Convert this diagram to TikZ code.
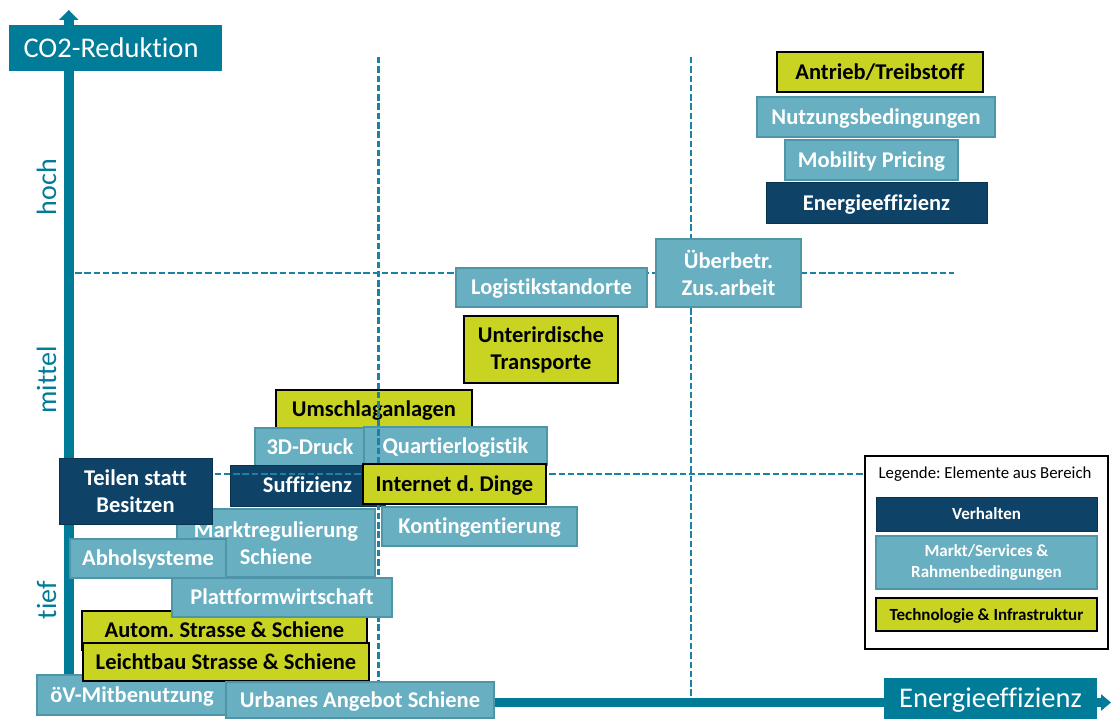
\documentclass[tikz,border=0pt]{standalone}
\usepackage{fontspec}
\setmainfont{Carlito}[Ligatures={NoCommon}]
\usetikzlibrary{arrows.meta}
\definecolor{axisc}{HTML}{007B98}
\definecolor{navy}{HTML}{0E4266}
\definecolor{navyb}{HTML}{0A3350}
\definecolor{lteal}{HTML}{68AFC1}
\definecolor{ltealb}{HTML}{4F95A9}
\definecolor{lime}{HTML}{C8D322}
\definecolor{dashc}{HTML}{1B82A6}
\newcommand{\mybox}[7]{\node[#2, minimum width={(#5-#3)*1pt}, minimum height={(#6-#4)*1pt}] (#1) at ({(#3+#5)/2},{(#4+#6)/2}) {#7};}
\frenchspacing
\begin{document}
\begin{tikzpicture}[x=1pt,y=-1pt,
  bxbase/.style={inner sep=0pt, align=center, font=\bfseries\fontsize{22.5}{27}\selectfont},
  dk/.style={bxbase, fill=navy, draw=navyb, line width=1pt, text=white},
  lt/.style={bxbase, fill=lteal, draw=ltealb, line width=1.2pt, text=white},
  tc/.style={bxbase, fill=lime, draw=black, line width=1.3pt, text=black},
  sl/.style={text height=19pt, text depth=4.5pt},
  lg/.style={font=\bfseries\fontsize{17}{20.5}\selectfont},
  lgs/.style={lg, text height=15pt, text depth=4pt},
  guide/.style={dashc, line width=2.3pt, dash pattern=on 6.5pt off 2.8pt},
  axislab/.style={text=axisc, font=\fontsize{28}{34}\selectfont, rotate=90, inner sep=0pt},
  axisline/.style={axisc, line width=9.5pt}]
\useasboundingbox (0,0) rectangle (1114,719);
% axes
\draw[axisline, -{Triangle[length=10pt,width=19pt]}] (68.8,707) -- (68.8,10);
\draw[axisline, -{Triangle[length=10pt,width=16pt]}] (64,702.5) -- (1111,702.5);
\node[fill=axisc, minimum width=213pt, minimum height=46pt, inner sep=0pt] (co2box) at (115.5,48) {};
\node[text=white, font=\fontsize{28.5}{34}\selectfont, inner sep=0pt] (co2) at (111,48) {CO2-Reduktion};
\node[fill=axisc, minimum width=213pt, minimum height=44pt, inner sep=0pt, text=white, font=\fontsize{28.5}{34}\selectfont] (eebox) at (990.5,700) {Energieeffizienz};
\node[axislab] (hoch) at (46.5,187) {hoch};
\node[axislab] (mittel) at (46.5,380) {mittel};
\node[axislab] (tief) at (46.5,600) {tief};
% lower layer boxes
\mybox{umschlag}{tc,sl}{276}{390}{472}{428}{Umschlaganlagen}
\mybox{druck}{lt,sl}{255}{428}{365}{467}{3D-Druck}
\mybox{quartier}{lt,sl}{364}{427}{547}{465}{Quartierlogistik}
\mybox{suff}{dk,sl}{230}{465}{385}{506}{Suffizienz}
% guide lines
\coordinate (v1t) at (378.5,57); \coordinate (v1b) at (378.5,698);
\coordinate (v2t) at (691,57); \coordinate (v2b) at (691,698);
\coordinate (h1l) at (75,273.3); \coordinate (h1r) at (954,273.3);
\coordinate (h2l) at (75,474); \coordinate (h2r) at (866,474);
\draw[guide] (v1t) -- (v1b);
\draw[guide] (v2t) -- (v2b);
\draw[guide] (h1l) -- (h1r);
\draw[guide] (h2l) -- (h2r);
% upper boxes
\mybox{antrieb}{tc,sl}{777}{52}{983}{92}{Antrieb/Treibstoff}
\mybox{nutzung}{lt,sl}{757}{97}{995}{137}{Nutzungsbedingungen}
\mybox{mobility}{lt,sl}{785}{140}{958}{180}{Mobility Pricing}
\mybox{energie}{dk,sl}{766}{183}{987}{224}{Energieeffizienz}
\mybox{logistik}{lt,sl}{456}{268}{647}{307}{Logistikstandorte}
\mybox{ueber}{lt}{656}{239}{801}{307}{Überbetr.\\Zus.arbeit}
\mybox{unter}{tc}{464}{316}{618}{383}{Unterirdische\\Transporte}
\mybox{internet}{tc,sl}{363}{464}{546}{504}{Internet d. Dinge}
\mybox{markt}{lt}{177}{509}{375}{577}{Marktregulierung\\Schiene}
\mybox{teilen}{dk}{59}{458}{212}{524}{Teilen statt\\Besitzen}
\mybox{abhol}{lt,sl}{70}{539}{226}{578}{Abholsysteme}
\mybox{konting}{lt,sl}{382}{507}{577}{546}{Kontingentierung}
\mybox{autom}{tc,sl}{82}{611}{367}{650}{Autom. Strasse \& Schiene}
\mybox{plattform}{lt,sl}{172}{578}{392}{617}{Plattformwirtschaft}
\mybox{oev}{lt,sl}{37}{675}{227}{715}{öV-Mitbenutzung}
\mybox{leicht}{tc,sl}{83}{643}{369}{681}{Leichtbau Strasse \& Schiene}
\mybox{urban}{lt,sl}{226}{682}{494}{718}{Urbanes Angebot Schiene}
% legend
\node[draw=black, fill=white, line width=1.2pt, minimum width=243pt, minimum height=193pt, inner sep=0pt] (legend) at (986.5,552.5) {};
\node[font=\fontsize{16.8}{20}\selectfont, inner sep=0pt, text height=14pt, text depth=4pt] (legtitle) at (985,473) {Legende: Elemente aus Bereich};
\mybox{lverh}{dk,lgs}{876}{497}{1097}{531}{Verhalten}
\mybox{lmarkt}{lt,lg}{876}{536}{1097}{589}{Markt/Services \&\\Rahmenbedingungen}
\mybox{ltech}{tc,lgs}{876}{598}{1097}{631}{Technologie \& Infrastruktur}
\end{tikzpicture}
\end{document}
